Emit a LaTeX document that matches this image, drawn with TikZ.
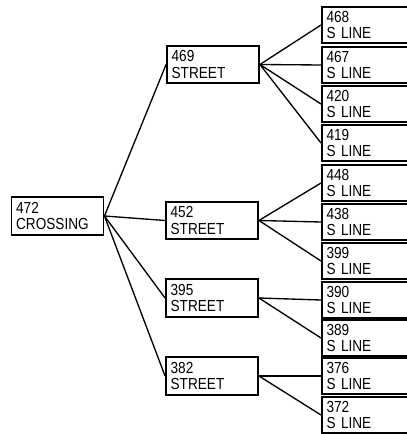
\documentclass[tikz,border=0pt]{standalone}
\usepackage{fontspec}
\setmainfont{Liberation Sans}[FakeStretch=0.85]
\usetikzlibrary{positioning}

\begin{document}
\begin{tikzpicture}[x=0.75pt, y=-0.75pt]
            \tikzstyle{item} = [draw, line width=1.4pt, rectangle, minimum width=69pt, minimum height=28pt, text width=62pt, inner xsep=3pt, inner ysep=0.5pt, align=left, font=\fontsize{12}{12.5}\selectfont]
            \tikzstyle{leaf} = [item, anchor=west, minimum height=27pt]
            \tikzstyle{link} = [line width=1pt]
            \useasboundingbox (0,0) rectangle (406,434);

            \node[item] (crossing) at (57.5, 216) {472\\CROSSING};

            \node[item] (st469) at (213, 64.5) {469\\STREET};
            \node[item] (st452) at (212, 220.5) {452\\STREET};
            \node[item] (st395) at (212, 298) {395\\STREET};
            \node[item] (st382) at (212, 376) {382\\STREET};

            \node[leaf] (sl468) at (321, 25) {468\\S LINE};
            \node[leaf] (sl467) at (321, 65) {467\\S LINE};
            \node[leaf] (sl420) at (321, 104) {420\\S LINE};
            \node[leaf] (sl419) at (321, 143) {419\\S LINE};
            \node[leaf] (sl448) at (321, 183) {448\\S LINE};
            \node[leaf] (sl438) at (321, 222) {438\\S LINE};
            \node[leaf] (sl399) at (321, 261) {399\\S LINE};
            \node[leaf] (sl390) at (321, 300) {390\\S LINE};
            \node[leaf] (sl389) at (321, 338) {389\\S LINE};
            \node[leaf] (sl376) at (321, 376) {376\\S LINE};
            \node[leaf] (sl372) at (321, 415) {372\\S LINE};

            \draw[link] (crossing.east) -- (st469.west);
            \draw[link] (crossing.east) -- (st452.west);
            \draw[link] (crossing.east) -- (st395.west);
            \draw[link] (crossing.east) -- (st382.west);

            \draw[link] (st469.east) -- (sl468.west);
            \draw[link] (st469.east) -- (sl467.west);
            \draw[link] (st469.east) -- (sl420.west);
            \draw[link] (st469.east) -- (sl419.west);
            \draw[link] (st452.east) -- (sl448.west);
            \draw[link] (st452.east) -- (sl438.west);
            \draw[link] (st452.east) -- (sl399.west);
            \draw[link] (st395.east) -- (sl390.west);
            \draw[link] (st395.east) -- (sl389.west);
            \draw[link] (st382.east) -- (sl376.west);
            \draw[link] (st382.east) -- (sl372.west);
        \end{tikzpicture}
\end{document}
